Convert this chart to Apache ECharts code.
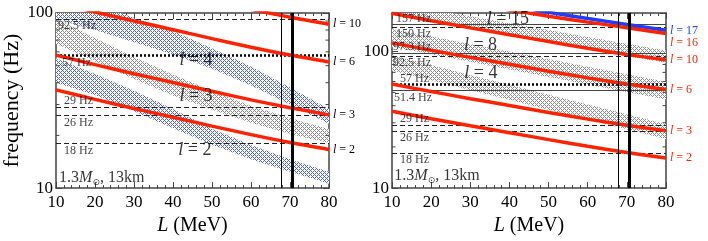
<!DOCTYPE html>
<html><head><meta charset="utf-8">
<script src="https://cdn.jsdelivr.net/npm/echarts/dist/echarts.min.js"></script>
<style>html,body{margin:0;padding:0;background:#fff}#c{width:708px;height:241px}</style>
</head><body><div id="c"></div>
<script>
// ---------- data ----------
const L = [10, 20, 30, 40, 50, 60, 70, 80];               // MeV
// red/blue frequency curves (Hz)
const l2  = [36.4, 32.1, 28.5, 25.4, 22.6, 20.2, 18.2, 16.6];
const l3  = [57.5, 50.7, 45.0, 40.1, 35.7, 31.9, 28.8, 26.2];
const l6  = [115, 101.4, 90.1, 80.3, 71.4, 63.8, 57.5, 52.5];
const l10 = [189, 167, 148, 132, 117.5, 105, 94.6, 86.3];
const l16 = [285, 252, 224, 200, 180, 163, 148.5, 134.5];
const l17 = [300, 268, 240, 215, 192, 173, 156.5, 142];
// left panel bands
const bandL2lo = [40.0, 34.0, 27.5, 22.0, 17.7, 14.6, 12.4, 10.6];
const bandL2hi = [55.0, 45.0, 36.0, 28.3, 21.8, 17.6, 14.6, 12.4];
const bandL3lo = [66.8, 53.0, 42.0, 33.8, 28.0, 23.6, 20.4, 18.1];
const bandL3hi = [93.1, 72.0, 56.0, 44.5, 35.8, 29.5, 25.1, 21.7];
const bandL4lo = [92, 80, 68, 58, 48, 38.5, 30, 23.3];
const bandL4hi = [130, 112, 94, 79, 63, 49.5, 37.5, 28.3];
// right panel bands
const bandR4lo  = [72.4, 61.4, 52.0, 44.1, 37.4, 31.7, 26.9, 22.8];
const bandR4hi  = [93.3, 79.1, 67.0, 56.8, 48.1, 40.8, 34.6, 29.3];
const bandR8lo  = [107.6, 94.8, 83.6, 73.6, 64.9, 57.1, 50.4, 44.4];
const bandR8hi  = [145.2, 127.9, 112.7, 99.3, 87.5, 77.1, 67.9, 59.8];
const bandR15lo = [184, 164, 146, 130, 116, 103.5, 92.3, 82.2];
const bandR15hi = [226, 202, 180, 160, 143, 127, 113.5, 101.2];
// reference frequencies
const refLeft  = [92.5, 57, 29, 26, 18];
const refRight = [157, 150, 97.3, 92.5, 57, 51.4, 29, 26, 18];
const refLeftText  = ['92.5 Hz', '57 Hz', '29 Hz', '26 Hz', '18 Hz'];
const refRightText = ['157 Hz', '150 Hz', '97.3 Hz', '92.5 Hz', '57 Hz', '51.4 Hz', '29 Hz', '26 Hz', '18 Hz'];
const vLines = [67.7, 70.7];
const yMinorTicks = [20, 30, 40, 50, 60, 70, 80, 90];

// ---------- styles / layout ----------
const refLeftKind  = ['dash', 'dot', 'dash', 'dash', 'dash'];
const refRightKind = ['solid', 'dash', 'solid', 'dash', 'dot', 'solid', 'dash', 'dash', 'dash'];
const refLeftSide  = ['below', 'below', 'above', 'below', 'below'];
const refRightSide = ['above', 'below', 'above', 'below', 'above', 'below', 'above', 'below', 'below'];
const refLeftDx  = [2, 6, 8, 8, 8];
const refRightDx = [4, 4, 1, 1, 8, 2, 8, 8, 8];
const SERIF = 'Liberation Serif';
const RED = '#ff2200', BLUE = '#1f3cff', INK = '#444';
const kindStyle = {
  dash:  {color: '#222', width: 1, type: [5, 3]},
  dot:   {color: '#000', width: 2.5, type: [2, 2]},
  solid: {color: '#444', width: 1, type: 'solid'}
};

function hatch(color) {
  const c = document.createElement('canvas');
  c.width = c.height = 4;
  const g = c.getContext('2d');
  g.fillStyle = '#fff'; g.fillRect(0, 0, 4, 4);
  g.fillStyle = color;
  for (let y = 0; y < 4; y++) for (let x = 0; x < 4; x++)
    if ((x + y) % 4 === 0 || (x - y + 4) % 4 === 0) g.fillRect(x, y, 1, 1);
  return c;
}
const blueHatch = hatch('rgb(70,100,235)');
const grayHatch = hatch('rgb(140,140,140)');

const pts = ys => L.map((x, i) => [x, ys[i]]);

// clip polygon (pixel space) to rectangle
function clipRect(poly, r) {
  const edges = [
    p => p[0] >= r.x, p => p[0] <= r.x + r.width,
    p => p[1] >= r.y, p => p[1] <= r.y + r.height
  ];
  const inter = [
    (a, b) => { const t = (r.x - a[0]) / (b[0] - a[0]); return [r.x, a[1] + t * (b[1] - a[1])]; },
    (a, b) => { const X = r.x + r.width; const t = (X - a[0]) / (b[0] - a[0]); return [X, a[1] + t * (b[1] - a[1])]; },
    (a, b) => { const t = (r.y - a[1]) / (b[1] - a[1]); return [a[0] + t * (b[0] - a[0]), r.y]; },
    (a, b) => { const Y = r.y + r.height; const t = (Y - a[1]) / (b[1] - a[1]); return [a[0] + t * (b[0] - a[0]), Y]; }
  ];
  let out = poly;
  for (let e = 0; e < 4; e++) {
    const inp = out; out = [];
    for (let i = 0; i < inp.length; i++) {
      const cur = inp[i], prev = inp[(i + inp.length - 1) % inp.length];
      const ci = edges[e](cur), pi = edges[e](prev);
      if (ci) { if (!pi) out.push(inter[e](prev, cur)); out.push(cur); }
      else if (pi) out.push(inter[e](prev, cur));
    }
    if (!out.length) break;
  }
  return out;
}

function band(lo, hi, pat, xi, yi) {
  return {type: 'custom', xAxisIndex: xi, yAxisIndex: yi, silent: true, z: 1,
    data: [[L[0], lo[0]]],
    renderItem(params, api) {
      const poly = [];
      for (let i = 0; i < L.length; i++) poly.push(api.coord([L[i], lo[i]]));
      for (let i = L.length - 1; i >= 0; i--) poly.push(api.coord([L[i], hi[i]]));
      const cs = params.coordSys;
      const clipped = clipRect(poly, {x: cs.x, y: cs.y, width: cs.width, height: cs.height});
      return {type: 'polygon', shape: {points: clipped},
        style: {fill: {image: pat, repeat: 'repeat'}, stroke: null}};
    }};
}
function curve(ys, color, text, labColor, xi, yi, off) {
  return {type: 'line', xAxisIndex: xi, yAxisIndex: yi, data: pts(ys), symbol: 'none', smooth: 0.3,
    z: 4, silent: true, lineStyle: {color: color, width: 3.5},
    endLabel: {show: true, formatter: text, color: labColor, fontFamily: SERIF, fontSize: 12,
      distance: 4, offset: off || [0, 0],
      rich: {i: {fontStyle: 'italic', fontFamily: SERIF, fontSize: 12, color: labColor}}}};
}
function refs(vals, kinds, xi, yi) {
  return {type: 'line', xAxisIndex: xi, yAxisIndex: yi, data: [], symbol: 'none', silent: true,
    markLine: {silent: true, symbol: 'none', z: 3, animation: false, label: {show: false},
      data: vals.map((v, i) => ({yAxis: v, lineStyle: kindStyle[kinds[i]]}))}};
}
function verticals(xi, yi) {
  return {type: 'line', xAxisIndex: xi, yAxisIndex: yi, data: [], symbol: 'none', silent: true,
    markLine: {silent: true, symbol: 'none', z: 6, animation: false, label: {show: false},
      data: vLines.map((v, i) => ({xAxis: v, lineStyle: {color: '#000', type: 'solid', width: i ? 3 : 1}}))}};
}
function refLabels(vals, texts, sides, dxs, xi, yi) {
  return {type: 'scatter', xAxisIndex: xi, yAxisIndex: yi, symbolSize: 0, silent: true, z: 8,
    data: vals.map((v, i) => ({value: [10, v], label: {show: true, position: 'right', distance: 0,
      formatter: texts[i], color: '#111', fontFamily: SERIF, fontSize: 12,
      offset: [dxs[i], sides[i] === 'above' ? -6 : 7]}}))};
}
function yTicks(xi, yi) {
  return {type: 'custom', xAxisIndex: xi, yAxisIndex: yi, silent: true, z: 7,
    data: yMinorTicks.map(v => [10, v]),
    renderItem(params, api) {
      const a = api.coord([10, api.value(1)]);
      const b = api.coord([80, api.value(1)]);
      return {type: 'group', children: [
        {type: 'line', shape: {x1: a[0], y1: a[1], x2: a[0] + 3.5, y2: a[1]}, style: {stroke: INK, lineWidth: 1}},
        {type: 'line', shape: {x1: b[0] - 3.5, y1: b[1], x2: b[0], y2: b[1]}, style: {stroke: INK, lineWidth: 1}}
      ]};
    }};
}
function texts(items, xi, yi) {
  return {type: 'scatter', xAxisIndex: xi, yAxisIndex: yi, symbolSize: 0, silent: true, z: 9,
    data: items.map(t => ({value: [t.L, t.f], label: {show: true, position: t.pos || 'inside',
      distance: 0, formatter: t.text, color: '#000', fontFamily: SERIF, fontSize: t.size,
      rich: {
        i: {fontStyle: 'italic', fontFamily: SERIF, fontSize: t.size, color: '#000'},
        s: {fontFamily: 'DejaVu Sans', fontSize: 9, color: '#000', padding: [9, 0, 0, 0]}
      }}}))};
}

// text annotations (positions in data coordinates)
const leftTexts = [
  {text: '{i|l} = 4', L: 45.9, f: 53.5, size: 18},
  {text: '{i|l} = 3', L: 45.9, f: 33.3, size: 18},
  {text: '{i|l} = 2', L: 45.6, f: 16.4, size: 18},
  {text: '1.3{i|M}{s|⊙}, 13km', L: 10.8, f: 11.4, size: 16, pos: 'right'}
];
const rightTexts = [
  {text: '{i|l} = 15', L: 39.6, f: 172, size: 18},
  {text: '{i|l} = 8', L: 32.6, f: 111, size: 18},
  {text: '{i|l} = 4', L: 32.7, f: 69.5, size: 18},
  {text: '1.3{i|M}{s|⊙}, 13km', L: 10.6, f: 12.2, size: 16, pos: 'right'}
];

// ---------- axes ----------
const lineSt = {color: INK, width: 1.5};
function xAx(grid, pos, show) {
  return {type: 'value', gridIndex: grid, position: pos, min: 10, max: 80, interval: 10,
    axisLine: {show: true, onZero: false, lineStyle: lineSt},
    axisTick: {show: true, inside: true, length: 6, lineStyle: {color: INK, width: 1}},
    minorTick: {show: true, splitNumber: 5, length: 3, lineStyle: {color: INK, width: 1}},
    splitLine: {show: false}, minorSplitLine: {show: false},
    axisLabel: {show: show, color: '#000', fontFamily: SERIF, fontSize: 17, margin: 6},
    name: show ? '{i|L} (MeV)' : '', nameLocation: 'middle', nameGap: 25,
    nameTextStyle: {color: '#000', fontFamily: SERIF, fontSize: 20,
      rich: {i: {fontStyle: 'italic', fontFamily: SERIF, fontSize: 20, color: '#000'}}}};
}
function yAx(grid, pos, max, show, name) {
  return {type: 'log', logBase: 10, gridIndex: grid, position: pos, min: 10, max: max,
    axisLine: {show: true, onZero: false, lineStyle: lineSt},
    axisTick: {show: true, inside: true, length: 6, lineStyle: {color: INK, width: 1}},
    minorTick: {show: false}, splitLine: {show: false},
    axisLabel: {show: show, showMaxLabel: max === 100, color: '#000', fontFamily: SERIF, fontSize: 17, margin: 3},
    name: name || '', nameLocation: 'middle', nameGap: 24, nameRotate: 90,
    nameTextStyle: {color: '#000', fontFamily: SERIF, fontSize: 22}};
}

const series = [
  // left panel (x 0, y 0)
  band(bandL4lo, bandL4hi, blueHatch, 0, 0),
  band(bandL2lo, bandL2hi, blueHatch, 0, 0),
  band(bandL3lo, bandL3hi, grayHatch, 0, 0),
  refs(refLeft, refLeftKind, 0, 0),
  curve(l10, RED, '{i|l} = 10', '#000', 0, 0),
  curve(l6, RED, '{i|l} = 6', '#000', 0, 0),
  curve(l3, RED, '{i|l} = 3', '#000', 0, 0),
  curve(l2, RED, '{i|l} = 2', '#000', 0, 0),
  verticals(0, 0), yTicks(0, 0),
  refLabels(refLeft, refLeftText, refLeftSide, refLeftDx, 0, 0),
  texts(leftTexts, 0, 0),
  // right panel (x 2, y 2)
  band(bandR4lo, bandR4hi, grayHatch, 2, 2),
  band(bandR8lo, bandR8hi, grayHatch, 2, 2),
  band(bandR15lo, bandR15hi, grayHatch, 2, 2),
  refs(refRight, refRightKind, 2, 2),
  curve(l17, BLUE, '{i|l} = 17', BLUE, 2, 2, [0, 1]),
  curve(l16, RED, '{i|l} = 16', RED, 2, 2, [0, 9]),
  curve(l10, RED, '{i|l} = 10', RED, 2, 2),
  curve(l6, RED, '{i|l} = 6', RED, 2, 2),
  curve(l3, RED, '{i|l} = 3', RED, 2, 2),
  curve(l2, RED, '{i|l} = 2', RED, 2, 2),
  verticals(2, 2), yTicks(2, 2),
  refLabels(refRight, refRightText, refRightSide, refRightDx, 2, 2),
  texts(rightTexts, 2, 2)
];

const chart = echarts.init(document.getElementById('c'), null, {renderer: 'canvas'});
chart.setOption({
  animation: false,
  backgroundColor: '#fff',
  grid: [
    {left: 56, top: 13, width: 273, height: 180},
    {left: 392, top: 13, width: 274, height: 180}
  ],
  xAxis: [xAx(0, 'bottom', true), xAx(0, 'top', false), xAx(1, 'bottom', true), xAx(1, 'top', false)],
  yAxis: [yAx(0, 'left', 100, true, 'frequency (Hz)'), yAx(0, 'right', 100, false),
          yAx(1, 'left', 190, true), yAx(1, 'right', 190, false)],
  series: series
});
</script>
</body></html>
